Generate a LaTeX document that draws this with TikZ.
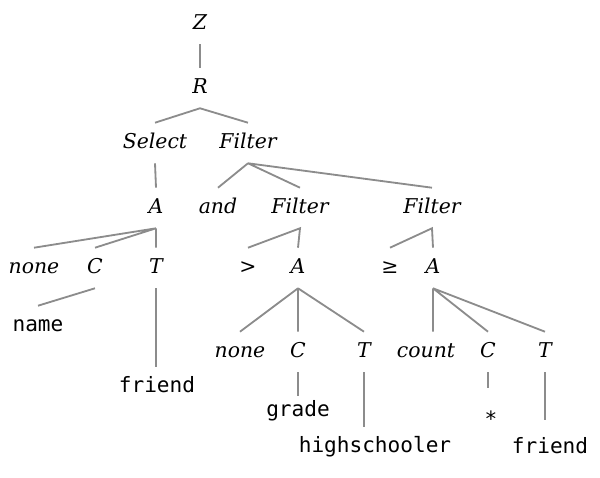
\documentclass[tikz,border=0pt]{standalone}
\usepackage{fontspec}
\newfontfamily\symfont{DejaVu Serif}
\newfontfamily\codefont{DejaVu Sans Mono}
\definecolor{edgegray}{RGB}{140,140,140}

\begin{document}
\begin{tikzpicture}[x=0.025cm, y=-0.025cm,
  sym/.style={inner sep=0pt, minimum height=1cm, text height=11pt, text depth=3pt, font=\fontsize{14.5}{18}\selectfont\symfont\itshape},
  word/.style={sym, font=\fontsize{15}{18}\selectfont\codefont},
  edge/.style={draw=edgegray, line width=1.3pt}]
  \useasboundingbox (0,0) rectangle (600,478);

  % Root and query
  \node[sym] (z) at (200,24) {Z};
  \node[sym] (r) at (200,88) {R};
  \node[sym] (sel) at (155,143) {Select};
  \node[sym] (fil) at (248,143) {Filter};

  % Third row
  \node[sym] (aa) at (156,208) {A};
  \node[sym] (and) at (218,208) {and};
  \node[sym] (filb) at (300,208) {Filter};
  \node[sym] (filc) at (432,208) {Filter};

  % Fourth row
  \node[sym] (nonea) at (34,268) {none};
  \node[sym] (ca) at (95,268) {C};
  \node[sym] (ta) at (156,268) {T};
  \node[sym, font=\fontsize{14.5}{18}\selectfont\symfont] (gt) at (248,268) {>};
  \node[sym] (ab) at (298,268) {A};
  \node[sym, font=\fontsize{14.5}{18}\selectfont\symfont] (geq) at (390,268) {≥};
  \node[sym] (ac) at (433,268) {A};

  % Fifth row
  \node[sym] (noneb) at (240,352) {none};
  \node[sym] (cb) at (298,352) {C};
  \node[sym] (tb) at (364,352) {T};
  \node[sym] (count) at (426,352) {count};
  \node[sym] (cc) at (488,352) {C};
  \node[sym] (tc) at (545,352) {T};

  % Leaves
  \node[word] (name) at (38,326) {name};
  \node[word] (frienda) at (157,387) {friend};
  \node[word] (grade) at (298,411) {grade};
  \node[word] (star) at (491,421) {*};
  \node[word] (high) at (375,447) {highschooler};
  \node[word] (friendb) at (550,448) {friend};

  % Edges
  \draw[edge] (z.south) -- (r.north);
  \draw[edge] (sel.north) -- (r.south) -- (fil.north);
  \draw[edge] (sel.south) -- (aa.north);
  \draw[edge] (fil.south) -- (and.north) (fil.south) -- (filb.north) (fil.south) -- (filc.north);
  \draw[edge] (aa.south) -- (nonea.north) (aa.south) -- (ca.north) (aa.south) -- (ta.north);
  \draw[edge] (ca.south) -- (name.north);
  \draw[edge] (ta.south) -- (ta.south |- frienda.north);
  \draw[edge] (gt.north) -- (filb.south) -- (ab.north);
  \draw[edge] (geq.north) -- (filc.south) -- (ac.north);
  \draw[edge] (ab.south) -- (noneb.north) (ab.south) -- (cb.north) (ab.south) -- (tb.north);
  \draw[edge] (ac.south) -- (ac.south |- count.north) (ac.south) -- (cc.north) (ac.south) -- (tc.north);
  \draw[edge, shorten >=-0.125cm] (cb.south) -- (cb.south |- grade.north);
  \draw[edge] (tb.south) -- (tb.south |- high.north);
  \draw[edge, shorten >=0.325cm] (cc.south) -- (cc.south |- star.north);
  \draw[edge, shorten >=0.2cm] (tc.south) -- (tc.south |- friendb.north);
\end{tikzpicture}
\end{document}
